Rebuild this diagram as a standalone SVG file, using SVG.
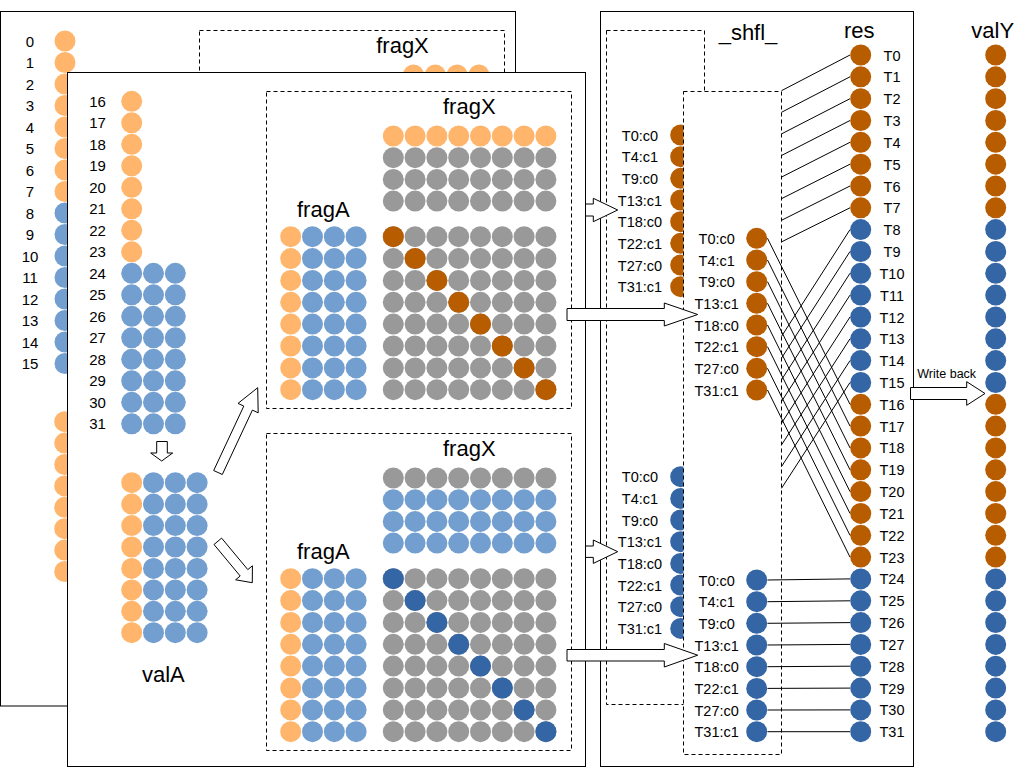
<svg xmlns="http://www.w3.org/2000/svg" width="1033" height="770" viewBox="0 0 1033 770">
<style>
.lo{fill:#FFB66C}.lb{fill:#729FCF}.gr{fill:#999999}.do{fill:#B85C00}.db{fill:#3465A4}
.pn{fill:#fff;stroke:#000;stroke-width:1}
.ds{fill:none;stroke:#000;stroke-width:1;stroke-dasharray:4 3}
.dsw{fill:#fff;stroke:#000;stroke-width:1;stroke-dasharray:4 3}
.ar{fill:#fff;stroke:#000;stroke-width:1}
.ln line{stroke:#000;stroke-width:1}
text{font-family:"Liberation Sans",Arial,sans-serif;fill:#000;text-anchor:middle}
.s{font-size:15px}.t{font-size:14.5px}.b{font-size:22px}.w{font-size:12.5px}
</style>
<defs>
<g id="r8"><circle cx="393.3" r="10.5"/><circle cx="415.1" r="10.5"/><circle cx="436.9" r="10.5"/><circle cx="458.7" r="10.5"/><circle cx="480.5" r="10.5"/><circle cx="502.3" r="10.5"/><circle cx="524.1" r="10.5"/><circle cx="545.9" r="10.5"/></g>
<g id="a3"><circle cx="312.5" r="10.5"/><circle cx="334.3" r="10.5"/><circle cx="356.1" r="10.5"/></g>
<g id="c3"><circle cx="131.7" r="10.5"/><circle cx="153.5" r="10.5"/><circle cx="175.3" r="10.5"/></g>
<g id="v3"><circle cx="153.5" r="10.5"/><circle cx="175.3" r="10.5"/><circle cx="197.1" r="10.5"/></g>
<g id="frag">
<use href="#r8" y="236.7" class="gr"/><use href="#r8" y="258.6" class="gr"/><use href="#r8" y="280.4" class="gr"/><use href="#r8" y="302.3" class="gr"/>
<use href="#r8" y="324.1" class="gr"/><use href="#r8" y="346" class="gr"/><use href="#r8" y="367.9" class="gr"/><use href="#r8" y="389.7" class="gr"/>
<g class="lo"><circle cx="290.7" cy="236.7" r="10.5"/><circle cx="290.7" cy="258.6" r="10.5"/><circle cx="290.7" cy="280.4" r="10.5"/><circle cx="290.7" cy="302.3" r="10.5"/><circle cx="290.7" cy="324.1" r="10.5"/><circle cx="290.7" cy="346" r="10.5"/><circle cx="290.7" cy="367.9" r="10.5"/><circle cx="290.7" cy="389.7" r="10.5"/></g>
<use href="#a3" y="236.7" class="lb"/><use href="#a3" y="258.6" class="lb"/><use href="#a3" y="280.4" class="lb"/><use href="#a3" y="302.3" class="lb"/>
<use href="#a3" y="324.1" class="lb"/><use href="#a3" y="346" class="lb"/><use href="#a3" y="367.9" class="lb"/><use href="#a3" y="389.7" class="lb"/>
<rect class="ds" x="266.5" y="91.5" width="305" height="317"/>
<text class="b" x="469.3" y="114.3">fragX</text>
<text class="b" x="323.3" y="217">fragA</text>
</g>
</defs>

<g id="back-panel">
<rect class="pn" x="0.5" y="11.5" width="515" height="694.5"/>
<rect class="ds" x="199.5" y="30.5" width="305" height="317"/>
<text class="b" x="402.5" y="53">fragX</text>
<g class="lo"><circle cx="413.5" cy="75" r="10.5"/><circle cx="435.3" cy="75" r="10.5"/><circle cx="457.1" cy="75" r="10.5"/><circle cx="478.9" cy="75" r="10.5"/></g>
<g class="lo"><circle cx="65" cy="41" r="10.5"/><circle cx="65" cy="62.5" r="10.5"/><circle cx="65" cy="84" r="10.5"/><circle cx="65" cy="105.5" r="10.5"/><circle cx="65" cy="127" r="10.5"/><circle cx="65" cy="148.5" r="10.5"/><circle cx="65" cy="170" r="10.5"/><circle cx="65" cy="191.5" r="10.5"/></g>
<g class="lb"><circle cx="65" cy="213" r="10.5"/><circle cx="65" cy="234.5" r="10.5"/><circle cx="65" cy="256" r="10.5"/><circle cx="65" cy="277.5" r="10.5"/><circle cx="65" cy="299" r="10.5"/><circle cx="65" cy="320.5" r="10.5"/><circle cx="65" cy="342" r="10.5"/><circle cx="65" cy="363.5" r="10.5"/></g>
<g class="lo"><circle cx="64.7" cy="421.7" r="10.5"/><circle cx="64.7" cy="443.1" r="10.5"/><circle cx="64.7" cy="464.5" r="10.5"/><circle cx="64.7" cy="485.9" r="10.5"/><circle cx="64.7" cy="507.3" r="10.5"/><circle cx="64.7" cy="528.7" r="10.5"/><circle cx="64.7" cy="550.1" r="10.5"/><circle cx="64.7" cy="571.5" r="10.5"/></g>
<g class="s">
<text x="30" y="46.5">0</text><text x="30" y="68">1</text><text x="30" y="89.5">2</text><text x="30" y="111">3</text><text x="30" y="132.5">4</text><text x="30" y="154">5</text><text x="30" y="175.5">6</text><text x="30" y="197">7</text>
<text x="30" y="218.5">8</text><text x="30" y="240">9</text><text x="30" y="261.5">10</text><text x="30" y="283">11</text><text x="30" y="304.5">12</text><text x="30" y="326">13</text><text x="30" y="347.5">14</text><text x="30" y="369">15</text>
</g>
</g>

<g id="shfl-panel">
<rect class="pn" x="600.5" y="11.5" width="313" height="755"/>
<text class="b" x="748" y="40">_shfl_</text>
<text class="b" x="859.3" y="38.3">res</text>
<rect class="ds" x="606.5" y="30.5" width="98" height="674"/>
<g class="do"><circle cx="680.7" cy="135" r="10.5"/><circle cx="680.7" cy="156.7" r="10.5"/><circle cx="680.7" cy="178.3" r="10.5"/><circle cx="680.7" cy="200" r="10.5"/><circle cx="680.7" cy="221.7" r="10.5"/><circle cx="680.7" cy="243.3" r="10.5"/><circle cx="680.7" cy="265" r="10.5"/><circle cx="680.7" cy="286.7" r="10.5"/></g>
<g class="db"><circle cx="680.7" cy="476.7" r="10.5"/><circle cx="680.7" cy="498.4" r="10.5"/><circle cx="680.7" cy="520" r="10.5"/><circle cx="680.7" cy="541.7" r="10.5"/><circle cx="680.7" cy="563.4" r="10.5"/><circle cx="680.7" cy="585" r="10.5"/><circle cx="680.7" cy="606.7" r="10.5"/><circle cx="680.7" cy="628.4" r="10.5"/></g>
<g class="t">
<text x="640" y="140.5">T0:c0</text><text x="640" y="162.2">T4:c1</text><text x="640" y="183.8">T9:c0</text><text x="640" y="205.5">T13:c1</text><text x="640" y="227.2">T18:c0</text><text x="640" y="248.8">T22:c1</text><text x="640" y="270.5">T27:c0</text><text x="640" y="292.2">T31:c1</text>
<text x="640" y="482.2">T0:c0</text><text x="640" y="503.9">T4:c1</text><text x="640" y="525.5">T9:c0</text><text x="640" y="547.2">T13:c1</text><text x="640" y="568.9">T18:c0</text><text x="640" y="590.5">T22:c1</text><text x="640" y="612.2">T27:c0</text><text x="640" y="633.9">T31:c1</text>
</g>
<rect class="dsw" x="683.5" y="91.5" width="98" height="663"/>
<g class="do"><circle cx="756.7" cy="238.3" r="10.5"/><circle cx="756.7" cy="260" r="10.5"/><circle cx="756.7" cy="281.7" r="10.5"/><circle cx="756.7" cy="303.3" r="10.5"/><circle cx="756.7" cy="325" r="10.5"/><circle cx="756.7" cy="346.7" r="10.5"/><circle cx="756.7" cy="368.3" r="10.5"/><circle cx="756.7" cy="390" r="10.5"/></g>
<g class="db"><circle cx="756.7" cy="580" r="10.5"/><circle cx="756.7" cy="601.7" r="10.5"/><circle cx="756.7" cy="623.3" r="10.5"/><circle cx="756.7" cy="645" r="10.5"/><circle cx="756.7" cy="666.7" r="10.5"/><circle cx="756.7" cy="688.4" r="10.5"/><circle cx="756.7" cy="710" r="10.5"/><circle cx="756.7" cy="731.7" r="10.5"/></g>
<g class="t">
<text x="716.7" y="243.8">T0:c0</text><text x="716.7" y="265.5">T4:c1</text><text x="716.7" y="287.2">T9:c0</text><text x="716.7" y="308.8">T13:c1</text><text x="716.7" y="330.5">T18:c0</text><text x="716.7" y="352.2">T22:c1</text><text x="716.7" y="373.8">T27:c0</text><text x="716.7" y="395.5">T31:c1</text>
<text x="716.7" y="585.5">T0:c0</text><text x="716.7" y="607.2">T4:c1</text><text x="716.7" y="628.8">T9:c0</text><text x="716.7" y="650.5">T13:c1</text><text x="716.7" y="672.2">T18:c0</text><text x="716.7" y="693.9">T22:c1</text><text x="716.7" y="715.5">T27:c0</text><text x="716.7" y="737.2">T31:c1</text>
</g>
<g id="res">
<g class="do"><circle cx="860.7" cy="55" r="10.5"/><circle cx="860.7" cy="76.8" r="10.5"/><circle cx="860.7" cy="98.7" r="10.5"/><circle cx="860.7" cy="120.5" r="10.5"/><circle cx="860.7" cy="142.3" r="10.5"/><circle cx="860.7" cy="164.2" r="10.5"/><circle cx="860.7" cy="186" r="10.5"/><circle cx="860.7" cy="207.8" r="10.5"/>
<circle cx="860.7" cy="404.3" r="10.5"/><circle cx="860.7" cy="426.1" r="10.5"/><circle cx="860.7" cy="447.9" r="10.5"/><circle cx="860.7" cy="469.8" r="10.5"/><circle cx="860.7" cy="491.6" r="10.5"/><circle cx="860.7" cy="513.4" r="10.5"/><circle cx="860.7" cy="535.3" r="10.5"/><circle cx="860.7" cy="557.1" r="10.5"/></g>
<g class="db"><circle cx="860.7" cy="229.6" r="10.5"/><circle cx="860.7" cy="251.5" r="10.5"/><circle cx="860.7" cy="273.3" r="10.5"/><circle cx="860.7" cy="295.1" r="10.5"/><circle cx="860.7" cy="317" r="10.5"/><circle cx="860.7" cy="338.8" r="10.5"/><circle cx="860.7" cy="360.6" r="10.5"/><circle cx="860.7" cy="382.5" r="10.5"/>
<circle cx="860.7" cy="578.9" r="10.5"/><circle cx="860.7" cy="600.8" r="10.5"/><circle cx="860.7" cy="622.6" r="10.5"/><circle cx="860.7" cy="644.4" r="10.5"/><circle cx="860.7" cy="666.2" r="10.5"/><circle cx="860.7" cy="688.1" r="10.5"/><circle cx="860.7" cy="709.9" r="10.5"/><circle cx="860.7" cy="731.7" r="10.5"/></g>
<g class="t">
<text x="892" y="60.5">T0</text><text x="892" y="82.3">T1</text><text x="892" y="104.2">T2</text><text x="892" y="126">T3</text><text x="892" y="147.8">T4</text><text x="892" y="169.7">T5</text><text x="892" y="191.5">T6</text><text x="892" y="213.3">T7</text>
<text x="892" y="235.1">T8</text><text x="892" y="257">T9</text><text x="892" y="278.8">T10</text><text x="892" y="300.6">T11</text><text x="892" y="322.5">T12</text><text x="892" y="344.3">T13</text><text x="892" y="366.1">T14</text><text x="892" y="388">T15</text>
<text x="892" y="409.8">T16</text><text x="892" y="431.6">T17</text><text x="892" y="453.4">T18</text><text x="892" y="475.3">T19</text><text x="892" y="497.1">T20</text><text x="892" y="518.9">T21</text><text x="892" y="540.8">T22</text><text x="892" y="562.6">T23</text>
<text x="892" y="584.4">T24</text><text x="892" y="606.3">T25</text><text x="892" y="628.1">T26</text><text x="892" y="649.9">T27</text><text x="892" y="671.7">T28</text><text x="892" y="693.6">T29</text><text x="892" y="715.4">T30</text><text x="892" y="737.2">T31</text>
</g>
</g>
</g>

<g id="connectors" class="ln">
<line x1="781.5" y1="90.7" x2="850" y2="55"/><line x1="781.5" y1="112.3" x2="850" y2="76.8"/><line x1="781.5" y1="133.9" x2="850" y2="98.7"/><line x1="781.5" y1="155.5" x2="850" y2="120.5"/>
<line x1="781.5" y1="177.1" x2="850" y2="142.3"/><line x1="781.5" y1="198.7" x2="850" y2="164.2"/><line x1="781.5" y1="220.3" x2="850" y2="186"/><line x1="781.5" y1="241.9" x2="850" y2="207.8"/>
<line x1="781.5" y1="336.4" x2="850" y2="229.6"/><line x1="781.5" y1="358.1" x2="850" y2="251.5"/><line x1="781.5" y1="379.8" x2="850" y2="273.3"/><line x1="781.5" y1="401.5" x2="850" y2="295.1"/>
<line x1="781.5" y1="423.2" x2="850" y2="317"/><line x1="781.5" y1="444.9" x2="850" y2="338.8"/><line x1="781.5" y1="466.6" x2="850" y2="360.6"/><line x1="781.5" y1="488.3" x2="850" y2="382.5"/>
<line x1="767.5" y1="238.3" x2="850" y2="404.3"/><line x1="767.5" y1="260" x2="850" y2="426.1"/><line x1="767.5" y1="281.7" x2="850" y2="447.9"/><line x1="767.5" y1="303.3" x2="850" y2="469.8"/>
<line x1="767.5" y1="325" x2="850" y2="491.6"/><line x1="767.5" y1="346.7" x2="850" y2="513.4"/><line x1="767.5" y1="368.3" x2="850" y2="535.3"/><line x1="767.5" y1="390" x2="850" y2="557.1"/>
<line x1="767.5" y1="580" x2="850" y2="578.9"/><line x1="767.5" y1="601.7" x2="850" y2="600.8"/><line x1="767.5" y1="623.3" x2="850" y2="622.6"/><line x1="767.5" y1="645" x2="850" y2="644.4"/>
<line x1="767.5" y1="666.7" x2="850" y2="666.2"/><line x1="767.5" y1="688.4" x2="850" y2="688.1"/><line x1="767.5" y1="710" x2="850" y2="709.9"/><line x1="767.5" y1="731.7" x2="850" y2="731.7"/>
</g>

<g id="valY">
<text class="b" x="992.7" y="38.3">valY</text>
<g class="do"><circle cx="995.7" cy="55" r="10.5"/><circle cx="995.7" cy="76.8" r="10.5"/><circle cx="995.7" cy="98.7" r="10.5"/><circle cx="995.7" cy="120.5" r="10.5"/><circle cx="995.7" cy="142.3" r="10.5"/><circle cx="995.7" cy="164.2" r="10.5"/><circle cx="995.7" cy="186" r="10.5"/><circle cx="995.7" cy="207.8" r="10.5"/>
<circle cx="995.7" cy="404.3" r="10.5"/><circle cx="995.7" cy="426.1" r="10.5"/><circle cx="995.7" cy="447.9" r="10.5"/><circle cx="995.7" cy="469.8" r="10.5"/><circle cx="995.7" cy="491.6" r="10.5"/><circle cx="995.7" cy="513.4" r="10.5"/><circle cx="995.7" cy="535.3" r="10.5"/><circle cx="995.7" cy="557.1" r="10.5"/></g>
<g class="db"><circle cx="995.7" cy="229.6" r="10.5"/><circle cx="995.7" cy="251.5" r="10.5"/><circle cx="995.7" cy="273.3" r="10.5"/><circle cx="995.7" cy="295.1" r="10.5"/><circle cx="995.7" cy="317" r="10.5"/><circle cx="995.7" cy="338.8" r="10.5"/><circle cx="995.7" cy="360.6" r="10.5"/><circle cx="995.7" cy="382.5" r="10.5"/>
<circle cx="995.7" cy="578.9" r="10.5"/><circle cx="995.7" cy="600.8" r="10.5"/><circle cx="995.7" cy="622.6" r="10.5"/><circle cx="995.7" cy="644.4" r="10.5"/><circle cx="995.7" cy="666.2" r="10.5"/><circle cx="995.7" cy="688.1" r="10.5"/><circle cx="995.7" cy="709.9" r="10.5"/><circle cx="995.7" cy="731.7" r="10.5"/></g>
</g>

<g id="write-back">
<polygon class="ar" points="910.5,387.5 966.7,387.5 966.7,381.7 985,393.5 966.7,405.3 966.7,399.5 910.5,399.5"/>
<text class="w" x="946.7" y="378.3">Write back</text>
</g>

<g id="back-arrows">
<polygon class="ar" points="560,204 593.3,204 593.3,198.3 617.7,210 593.3,221.7 593.3,216 560,216"/>
<polygon class="ar" points="560,546 593.3,546 593.3,540 617.7,551.7 593.3,563.4 593.3,557.4 560,557.4"/>
</g>

<g id="front-panel">
<rect class="pn" x="67.5" y="72.5" width="518" height="694"/>
<g class="lo"><circle cx="131.7" cy="101.3" r="10.5"/><circle cx="131.7" cy="122.8" r="10.5"/><circle cx="131.7" cy="144.3" r="10.5"/><circle cx="131.7" cy="165.8" r="10.5"/><circle cx="131.7" cy="187.3" r="10.5"/><circle cx="131.7" cy="208.8" r="10.5"/><circle cx="131.7" cy="230.3" r="10.5"/><circle cx="131.7" cy="251.8" r="10.5"/></g>
<use href="#c3" y="273.3" class="lb"/><use href="#c3" y="294.8" class="lb"/><use href="#c3" y="316.3" class="lb"/><use href="#c3" y="337.8" class="lb"/>
<use href="#c3" y="359.3" class="lb"/><use href="#c3" y="380.8" class="lb"/><use href="#c3" y="402.3" class="lb"/><use href="#c3" y="423.8" class="lb"/>
<g class="s">
<text x="97.5" y="106.8">16</text><text x="97.5" y="128.3">17</text><text x="97.5" y="149.8">18</text><text x="97.5" y="171.3">19</text><text x="97.5" y="192.8">20</text><text x="97.5" y="214.3">21</text><text x="97.5" y="235.8">22</text><text x="97.5" y="257.3">23</text>
<text x="97.5" y="278.8">24</text><text x="97.5" y="300.3">25</text><text x="97.5" y="321.8">26</text><text x="97.5" y="343.3">27</text><text x="97.5" y="364.8">28</text><text x="97.5" y="386.3">29</text><text x="97.5" y="407.8">30</text><text x="97.5" y="429.3">31</text>
</g>
<polygon class="ar" points="156.7,441.5 167.3,441.5 167.3,453 172.7,453 161.7,461 150.7,453 156.7,453"/>
<g id="valA">
<g class="lo"><circle cx="131.7" cy="482.7" r="10.5"/><circle cx="131.7" cy="504.1" r="10.5"/><circle cx="131.7" cy="525.6" r="10.5"/><circle cx="131.7" cy="547" r="10.5"/><circle cx="131.7" cy="568.4" r="10.5"/><circle cx="131.7" cy="589.9" r="10.5"/><circle cx="131.7" cy="611.3" r="10.5"/><circle cx="131.7" cy="632.7" r="10.5"/></g>
<use href="#v3" y="482.7" class="lb"/><use href="#v3" y="504.1" class="lb"/><use href="#v3" y="525.6" class="lb"/><use href="#v3" y="547" class="lb"/>
<use href="#v3" y="568.4" class="lb"/><use href="#v3" y="589.9" class="lb"/><use href="#v3" y="611.3" class="lb"/><use href="#v3" y="632.7" class="lb"/>
<text class="b" x="163.3" y="681.7">valA</text>
</g>
<polygon class="ar" points="222.3,474.5 252.4,410.1 258.2,412.8 257.7,387.7 238,403.4 243.8,406.1 213.7,470.5"/>
<polygon class="ar" points="214,544.5 240.2,576 235.6,579.8 252.3,582.7 252.4,565.8 247.8,569.6 221.6,538.1"/>
<g id="frag-top">
<use href="#frag"/>
<use href="#r8" y="136" class="lo"/><use href="#r8" y="157.7" class="gr"/><use href="#r8" y="179.4" class="gr"/><use href="#r8" y="201.1" class="gr"/>
<g class="do"><circle cx="393.3" cy="236.7" r="10.5"/><circle cx="415.1" cy="258.6" r="10.5"/><circle cx="436.9" cy="280.4" r="10.5"/><circle cx="458.7" cy="302.3" r="10.5"/><circle cx="480.5" cy="324.1" r="10.5"/><circle cx="502.3" cy="346" r="10.5"/><circle cx="524.1" cy="367.9" r="10.5"/><circle cx="545.9" cy="389.7" r="10.5"/></g>
</g>
<g id="frag-bottom" transform="translate(0,342)">
<use href="#frag"/>
<use href="#r8" y="136" class="gr"/><use href="#r8" y="157.7" class="lb"/><use href="#r8" y="179.4" class="lb"/><use href="#r8" y="201.1" class="lb"/>
<g class="db"><circle cx="393.3" cy="236.7" r="10.5"/><circle cx="415.1" cy="258.6" r="10.5"/><circle cx="436.9" cy="280.4" r="10.5"/><circle cx="458.7" cy="302.3" r="10.5"/><circle cx="480.5" cy="324.1" r="10.5"/><circle cx="502.3" cy="346" r="10.5"/><circle cx="524.1" cy="367.9" r="10.5"/><circle cx="545.9" cy="389.7" r="10.5"/></g>
</g>
</g>

<g id="front-arrows">
<polygon class="ar" points="567,308.5 664.3,308.5 664.3,303 697.7,314.5 664.3,326 664.3,320.5 567,320.5"/>
<polygon class="ar" points="567,649.5 664.3,649.5 664.3,643.5 697.7,655.2 664.3,667 664.3,661 567,661"/>
</g>
</svg>
